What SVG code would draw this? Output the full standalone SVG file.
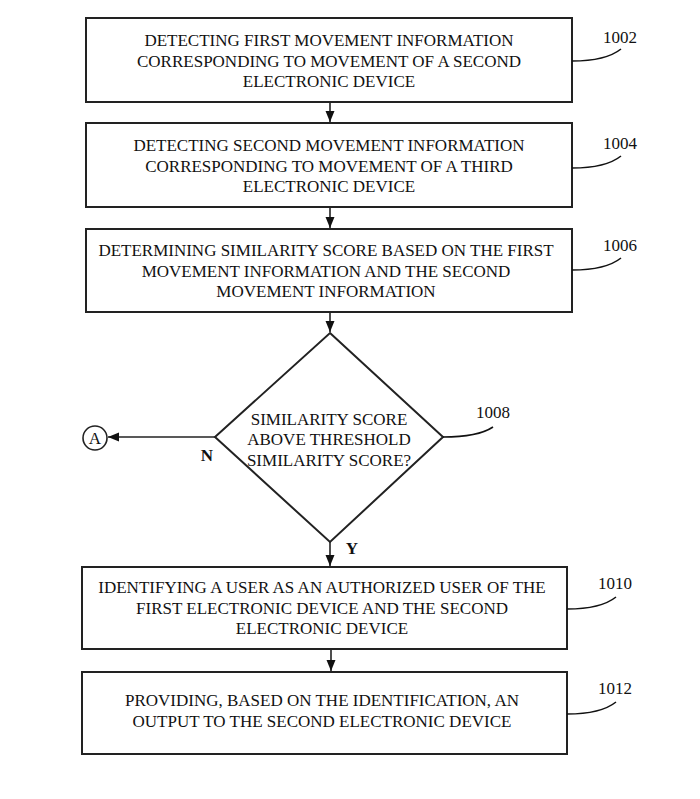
<svg xmlns="http://www.w3.org/2000/svg" width="700" height="799" viewBox="0 0 700 799">
<style>
.box{fill:#fff;stroke:#222;stroke-width:2}
.t{font-family:"Liberation Serif",serif;font-size:17px;fill:#111;text-anchor:middle}
.ref{font-family:"Liberation Serif",serif;font-size:17px;fill:#111}
.lead{fill:none;stroke:#111;stroke-width:1.6}
.c{stroke:#222;stroke-width:1.6;fill:none}
.b{font-weight:bold}
</style>
<defs>
<marker id="ah" markerWidth="12" markerHeight="12" refX="11" refY="5" orient="auto" markerUnits="userSpaceOnUse">
<path d="M0,0.5 L11,5 L0,9.5 Z" fill="#111"/>
</marker>
</defs>
<rect width="700" height="799" fill="#fff"/>
<g id="connectors">
<line class="c" x1="330" y1="102" x2="330" y2="122" marker-end="url(#ah)"/>
<line class="c" x1="330" y1="207" x2="330" y2="228" marker-end="url(#ah)"/>
<line class="c" x1="330" y1="312" x2="330" y2="332" marker-end="url(#ah)"/>
<line class="c" x1="330" y1="542" x2="330" y2="566" marker-end="url(#ah)"/>
<line class="c" x1="331" y1="649" x2="331" y2="671" marker-end="url(#ah)"/>
<line class="c" x1="215" y1="437" x2="108" y2="437" marker-end="url(#ah)"/>
<text class="t b" x="207" y="461">N</text>
<text class="t b" x="352" y="554">Y</text>
</g>
<g id="n1002">
<rect class="box" x="86" y="18" width="486" height="84"/>
<text class="t" x="329" y="46">DETECTING FIRST MOVEMENT INFORMATION</text>
<text class="t" x="329" y="67">CORRESPONDING TO MOVEMENT OF A SECOND</text>
<text class="t" x="329" y="87">ELECTRONIC DEVICE</text>
<path class="lead" d="M572,61 Q606,61 621,49"/>
<text class="ref" x="603" y="43">1002</text>
</g>
<g id="n1004">
<rect class="box" x="86" y="123" width="486" height="84"/>
<text class="t" x="329" y="151">DETECTING SECOND MOVEMENT INFORMATION</text>
<text class="t" x="329" y="172">CORRESPONDING TO MOVEMENT OF A THIRD</text>
<text class="t" x="329" y="192">ELECTRONIC DEVICE</text>
<path class="lead" d="M572,168 Q606,168 621,156"/>
<text class="ref" x="603" y="149">1004</text>
</g>
<g id="n1006">
<rect class="box" x="86" y="229" width="486" height="83"/>
<text class="t" x="326" y="256">DETERMINING SIMILARITY SCORE BASED ON THE FIRST</text>
<text class="t" x="326" y="277">MOVEMENT INFORMATION AND THE SECOND</text>
<text class="t" x="326" y="297">MOVEMENT INFORMATION</text>
<path class="lead" d="M572,270 Q606,270 621,258"/>
<text class="ref" x="603" y="251">1006</text>
</g>
<g id="n1008">
<polygon class="box" points="330,333 443,437 330,542 215,437"/>
<text class="t" x="329" y="425">SIMILARITY SCORE</text>
<text class="t" x="329" y="445">ABOVE THRESHOLD</text>
<text class="t" x="329" y="466">SIMILARITY SCORE?</text>
<path class="lead" d="M443,437 Q478,437 493,427"/>
<text class="ref" x="476" y="418">1008</text>
</g>
<g id="nA">
<circle cx="95" cy="438" r="12" fill="#fff" stroke="#222" stroke-width="1.6"/>
<text class="t" x="95" y="444">A</text>
</g>
<g id="n1010">
<rect class="box" x="82" y="567" width="485" height="82"/>
<text class="t" x="322" y="593">IDENTIFYING A USER AS AN AUTHORIZED USER OF THE</text>
<text class="t" x="322" y="614">FIRST ELECTRONIC DEVICE AND THE SECOND</text>
<text class="t" x="322" y="634">ELECTRONIC DEVICE</text>
<path class="lead" d="M567,609 Q601,609 616,597"/>
<text class="ref" x="598" y="589">1010</text>
</g>
<g id="n1012">
<rect class="box" x="82" y="672" width="485" height="82"/>
<text class="t" x="322" y="706">PROVIDING, BASED ON THE IDENTIFICATION, AN</text>
<text class="t" x="322" y="727">OUTPUT TO THE SECOND ELECTRONIC DEVICE</text>
<path class="lead" d="M567,714 Q601,714 616,702"/>
<text class="ref" x="598" y="694">1012</text>
</g>
</svg>
